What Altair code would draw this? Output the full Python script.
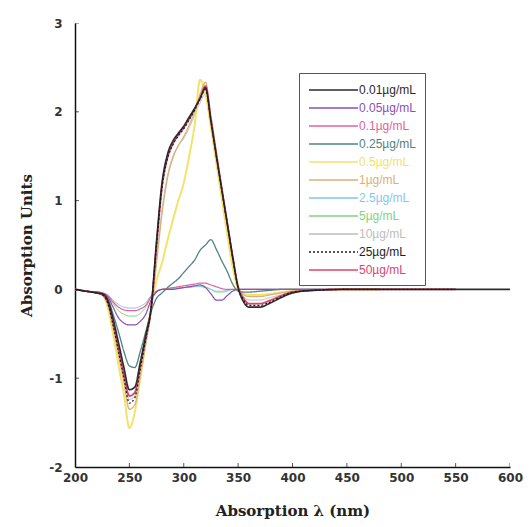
import altair as alt
import pandas as pd

# wavelength grid (nm)
wavelength = [200, 210, 220, 225, 230, 235, 240, 245, 250, 255, 260, 265, 270, 275, 280,
              285, 290, 295, 300, 305, 310, 315, 320, 325, 330, 335, 340, 345, 350, 355,
              360, 370, 380, 390, 400, 420, 450, 480, 500, 550, 600]

series_names = ["0.01µg/mL", "0.05µg/mL", "0.1µg/mL", "0.25µg/mL", "0.5µg/mL", "1µg/mL",
                "2.5µg/mL", "5µg/mL", "10µg/mL", "25µg/mL", "50µg/mL"]

s_0_01 = [0.0, -0.02, -0.04, -0.05, -0.12, -0.33, -0.6, -0.88, -1.13, -1.1, -0.82, -0.52, -0.2, 0.55, 1.2,
          1.52, 1.67, 1.76, 1.84, 1.94, 2.04, 2.15, 2.27, 1.89, 1.5, 1.12, 0.74, 0.36, 0.02, -0.14,
          -0.2, -0.2, -0.15, -0.09, -0.04, -0.01, 0.0, 0.0, 0.0, 0.0, 0.0]
s_0_05 = [0.0, -0.02, -0.03, -0.04, -0.08, -0.2, -0.32, -0.38, -0.4, -0.4, -0.36, -0.28, -0.12, -0.03, 0.0,
          0.0, 0.0, 0.01, 0.02, 0.03, 0.04, 0.05, 0.02, -0.05, -0.12, -0.12, -0.07, -0.02, 0.0, 0.0,
          0.0, 0.0, 0.0, 0.0, 0.0, 0.0, 0.0, 0.0, None, None, None]
s_0_1 = [0.0, -0.02, -0.03, -0.04, -0.07, -0.14, -0.2, -0.23, -0.24, -0.24, -0.22, -0.18, -0.08, -0.02, 0.0,
         0.01, 0.02, 0.03, 0.04, 0.05, 0.06, 0.07, 0.07, 0.05, 0.03, 0.01, 0.0, 0.0, 0.0, 0.0,
         0.0, 0.0, 0.0, 0.0, 0.0, 0.0, 0.0, None, None, None, None]
s_0_25 = [0.0, -0.02, -0.03, -0.05, -0.1, -0.28, -0.48, -0.7, -0.86, -0.88, -0.7, -0.48, -0.25, -0.1, -0.04,
          0.02, 0.07, 0.12, 0.19, 0.26, 0.33, 0.44, 0.5, 0.56, 0.45, 0.32, 0.2, 0.06, -0.02, -0.03,
          -0.03, -0.02, -0.01, 0.0, 0.0, 0.0, 0.0, 0.0, None, None, None]
s_0_5 = [0.0, -0.02, -0.04, -0.06, -0.2, -0.5, -0.85, -1.18, -1.56, -1.38, -1.0, -0.6, -0.2, 0.1, 0.3,
         0.55, 0.78, 1.0, 1.2, 1.5, 1.85, 2.36, 2.2, 1.82, 1.42, 1.02, 0.62, 0.25, 0.0, -0.05,
         -0.06, -0.06, -0.05, -0.03, -0.02, -0.01, 0.0, 0.0, None, None, None]
s_1 = [0.0, -0.02, -0.04, -0.06, -0.16, -0.42, -0.74, -1.05, -1.35, -1.3, -0.98, -0.62, -0.25, 0.3, 0.85,
       1.25, 1.48, 1.62, 1.72, 1.85, 2.0, 2.2, 2.33, 1.95, 1.55, 1.15, 0.76, 0.38, 0.04, -0.06,
       -0.08, -0.08, -0.06, -0.04, -0.02, -0.01, 0.0, 0.0, 0.0, 0.0, None]
s_2_5 = [0.0, -0.02, -0.03, -0.04, -0.06, -0.12, -0.17, -0.2, -0.21, -0.21, -0.19, -0.15, -0.07, -0.02, 0.0,
         0.0, 0.01, 0.01, 0.02, 0.02, 0.03, 0.03, 0.02, 0.0, -0.02, -0.02, -0.01, 0.0, 0.0, 0.0,
         0.0, 0.0, 0.0, 0.0, 0.0, 0.0, 0.0, None, None, None, None]
s_5 = [0.0, -0.02, -0.03, -0.04, -0.07, -0.16, -0.24, -0.28, -0.3, -0.3, -0.27, -0.2, -0.09, -0.02, 0.0,
       0.0, 0.01, 0.02, 0.02, 0.03, 0.04, 0.04, 0.03, 0.0, -0.03, -0.03, -0.02, 0.0, 0.0, 0.0,
       0.0, 0.0, 0.0, 0.0, 0.0, 0.0, 0.0, None, None, None, None]
s_10 = [0.0, -0.02, -0.04, -0.06, -0.15, -0.4, -0.7, -0.98, -1.24, -1.2, -0.9, -0.58, -0.24, 0.35, 0.9,
        1.28, 1.5, 1.62, 1.7, 1.82, 1.96, 2.1, 2.2, 1.86, 1.48, 1.1, 0.73, 0.36, 0.03, -0.08,
        -0.12, -0.12, -0.09, -0.06, -0.03, -0.01, 0.0, 0.0, 0.0, None, None]
s_25 = [0.0, -0.02, -0.04, -0.06, -0.15, -0.4, -0.7, -1.0, -1.28, -1.22, -0.9, -0.56, -0.22, 0.5, 1.15,
        1.47, 1.63, 1.73, 1.81, 1.91, 2.02, 2.14, 2.25, 1.9, 1.5, 1.12, 0.74, 0.36, 0.02, -0.12,
        -0.18, -0.18, -0.14, -0.08, -0.03, -0.01, 0.0, 0.0, 0.0, 0.0, None]
s_50 = [0.0, -0.02, -0.04, -0.06, -0.14, -0.37, -0.66, -0.95, -1.2, -1.16, -0.86, -0.55, -0.22, 0.5, 1.15,
        1.48, 1.64, 1.74, 1.82, 1.92, 2.03, 2.16, 2.29, 1.92, 1.52, 1.13, 0.75, 0.37, 0.03, -0.1,
        -0.16, -0.16, -0.12, -0.07, -0.03, -0.01, 0.0, 0.0, 0.0, 0.0, None]

series_values = [s_0_01, s_0_05, s_0_1, s_0_25, s_0_5, s_1, s_2_5, s_5, s_10, s_25, s_50]

colors = ["#2e2a2a", "#8a50b4", "#e8609a", "#4f8482", "#f3e36a", "#d8b278",
          "#80c8f0", "#80d47c", "#bdbdbd", "#1e1e1e", "#e0446e"]
dashes = [[1, 0], [1, 0], [1, 0], [1, 0], [1, 0], [1, 0],
          [1, 0], [1, 0], [1, 0], [2, 2], [1, 0]]
widths = [1.6, 1.2, 1.2, 1.3, 2.0, 1.3, 1.0, 1.0, 1.0, 1.3, 1.8]

draw_order = ["10µg/mL", "5µg/mL", "2.5µg/mL", "0.5µg/mL", "1µg/mL", "0.1µg/mL",
              "0.05µg/mL", "0.25µg/mL", "50µg/mL", "0.01µg/mL", "25µg/mL"]

x_ticks = [250, 300, 350, 400, 450, 500, 550, 600]
y_ticks = [-1, 0, 1, 2, 3]

rows = []
for name, vals in zip(series_names, series_values):
    for w, v in zip(wavelength, vals):
        if v is not None:
            rows.append({"wl": w, "val": v, "series": name})
df = pd.DataFrame(rows)

x_scale = alt.Scale(domain=[200, 600], nice=False, zero=False)
y_scale = alt.Scale(domain=[-2, 3], nice=False, zero=False)

x_axis = alt.Axis(
    title="Absorption λ (nm)", values=list(range(200, 601, 50)), grid=False,
    tickSize=0, labelPadding=5, labelFlush=False, labelOverlap=False,
    domainColor="#111", domainWidth=1.5,
    labelFont="DejaVu Sans", labelFontWeight="bold", labelFontSize=12, labelColor="#333",
    titleFont="DejaVu Serif", titleFontWeight="bold", titleFontSize=15, titleColor="#222",
    titlePadding=20,
)
y_axis = alt.Axis(
    title="Absorption Units", values=[-2, -1, 0, 1, 2, 3], grid=False,
    tickSize=0, labelPadding=13, labelFlush=False, labelOverlap=False,
    labelExpr="'' + datum.value",
    domainColor="#111", domainWidth=1.5,
    labelFont="DejaVu Sans", labelFontWeight="bold", labelFontSize=12, labelColor="#333",
    titleFont="DejaVu Serif", titleFontWeight="bold", titleFontSize=15, titleColor="#222",
    titlePadding=14,
)

legend = alt.Legend(
    title=None, orient="none", legendX=224, legendY=50,
    symbolType="M-1,0H6", symbolSize=196, symbolStrokeWidth=1.5,
    labelOffset=35, labelFont="Liberation Sans", labelFontSize=12,
    labelColor={"expr": "scale('color', datum.value)"},
    rowPadding=4, padding=9, strokeColor="#555", fillColor="white",
)

color_scale = alt.Scale(domain=series_names, range=colors)
dash_scale = alt.Scale(domain=series_names, range=dashes)

base = alt.Chart(df)
layers = []
for name in draw_order:
    i = series_names.index(name)
    layers.append(
        base.transform_filter(alt.datum.series == name)
        .mark_line(strokeWidth=widths[i], interpolate="monotone", clip=True)
        .encode(
            x=alt.X("wl:Q", scale=x_scale, axis=x_axis),
            y=alt.Y("val:Q", scale=y_scale, axis=y_axis),
            color=alt.Color("series:N", scale=color_scale, legend=legend),
            strokeDash=alt.StrokeDash("series:N", scale=dash_scale, legend=legend),
        )
    )

xt = alt.Chart(pd.DataFrame({"wl": x_ticks})).mark_tick(
    orient="vertical", size=8, thickness=1, color="#111", clip=True
).encode(x=alt.X("wl:Q", scale=x_scale, axis=x_axis), y=alt.datum(-2))

yt = alt.Chart(pd.DataFrame({"val": y_ticks})).mark_tick(
    orient="horizontal", size=8, thickness=1, color="#111", clip=True
).encode(y=alt.Y("val:Q", scale=y_scale, axis=y_axis), x=alt.datum(200))

chart = alt.layer(*layers, xt, yt).properties(
    width=435, height=444,
    padding={"left": 67, "top": 15, "right": 13, "bottom": 52},
    autosize=alt.AutoSizeParams(type="none"),
).configure_view(stroke=None)

chart.save("out.html", embed_options={"renderer": "svg", "actions": False})
